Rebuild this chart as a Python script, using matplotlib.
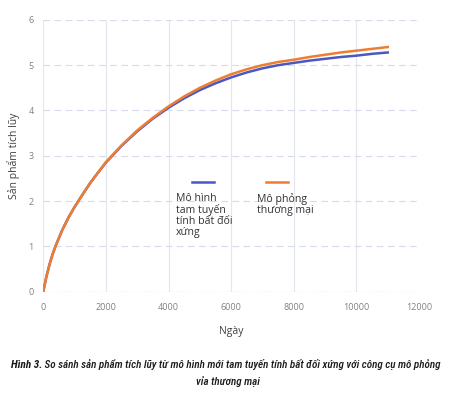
import matplotlib.pyplot as plt
from matplotlib.lines import Line2D

# data
days = [0, 100, 200, 300, 400, 600, 800, 1000, 1250, 1500, 1750, 2000,
        2500, 3000, 3500, 4000, 4500, 5000, 5500, 6000, 6500, 7000,
        7500, 8000, 8500, 9000, 9500, 10000, 10500, 11000]
model = [0, 0.33, 0.60, 0.83, 1.02, 1.35, 1.63, 1.87, 2.14, 2.40, 2.63, 2.85,
         3.22, 3.54, 3.82, 4.06, 4.27, 4.45, 4.60, 4.73, 4.84, 4.93,
         5.00, 5.05, 5.10, 5.14, 5.18, 5.21, 5.25, 5.28]
commercial = [0, 0.33, 0.60, 0.83, 1.02, 1.35, 1.63, 1.87, 2.14, 2.40, 2.63, 2.86,
              3.23, 3.56, 3.84, 4.09, 4.31, 4.50, 4.66, 4.80, 4.91, 5.00,
              5.07, 5.12, 5.18, 5.23, 5.28, 5.32, 5.36, 5.40]
labels = ['Mô hình\ntam tuyến\ntính bất đối\nxứng', 'Mô phỏng\nthương mại']
colors = ['#4a58c4', '#ed7d31']
xticks = [0, 2000, 4000, 6000, 8000, 10000, 12000]
yticks = [0, 1, 2, 3, 4, 5, 6]
cap_bold = 'Hình 3.'
cap_line1 = ' So sánh sản phẩm tích lũy từ mô hình mới tam tuyến tính bất đối xứng với công cụ mô phỏng'
cap_line2 = 'vỉa thương mại'

plt.rcParams['font.family'] = ['Open Sans', 'DejaVu Sans']

fig = plt.figure(figsize=(4.55, 3.97), dpi=100)
ax = fig.add_axes([0.095, 0.265, 0.826, 0.685])

ax.plot(days, model, color=colors[0], lw=1.8, zorder=3)
ax.plot(days, commercial, color=colors[1], lw=1.8, zorder=4)

ax.set_xlim(0, 12000)
ax.set_ylim(0, 6)
ax.set_xticks(xticks)
ax.set_yticks(yticks)
ax.tick_params(length=0, labelsize=6.5, colors='#808080')
ax.tick_params(axis='x', pad=8)
ax.tick_params(axis='y', pad=7)
for s in ax.spines.values():
    s.set_visible(False)
ax.grid(axis='x', color='#e4e6ee', lw=0.8)
ax.grid(axis='y', color='#d6daec', lw=0.8, ls=(0, (6, 4)))
ax.axhline(0, color='#d9d9d9', lw=0.8)

ax.set_xlabel('Ngày', fontsize=7.5, color='#404040', labelpad=10)
ax.set_ylabel('Sản phẩm tích lũy', fontsize=7.5, color='#404040', labelpad=6)

# legend in the Excel style: line above its label
hxs = [0.396, 0.593]
txs = [0.353, 0.568]
for lab, c, hx, tx in zip(labels, colors, hxs, txs):
    ax.add_line(Line2D([hx, hx + 0.058], [0.404, 0.404], color=c, lw=1.8,
                       transform=ax.transAxes, clip_on=False))
    ax.text(tx, 0.362, lab, transform=ax.transAxes, fontsize=7.6,
            color='#333333', va='top', ha='left', linespacing=1.0)

# caption, narrow italic; sized to fit the width of the picture
cfont = dict(family=['Roboto Condensed', 'Liberation Sans Narrow', 'Roboto'],
             style='italic', color='#1a1a1a')
t0 = fig.text(11 / 455, 1 - 365 / 397, cap_bold, ha='left', va='center',
              fontsize=8, weight='bold', **cfont)
t1 = fig.text(0, 0, cap_line1, ha='left', va='center', fontsize=8,
              weight='medium', **cfont)
t2 = fig.text(0.5, 1 - 382 / 397, cap_line2, ha='center', va='center',
              fontsize=8, weight='medium', **cfont)
r = fig.canvas.get_renderer()
w = t0.get_window_extent(r).width + t1.get_window_extent(r).width
k = 429 / w
for t in (t0, t1, t2):
    t.set_fontsize(8 * k)
b0 = t0.get_window_extent(r)
t1.set_position((b0.x1 / fig.bbox.width, 1 - 365 / 397))

fig.savefig('out.png', dpi=100)
